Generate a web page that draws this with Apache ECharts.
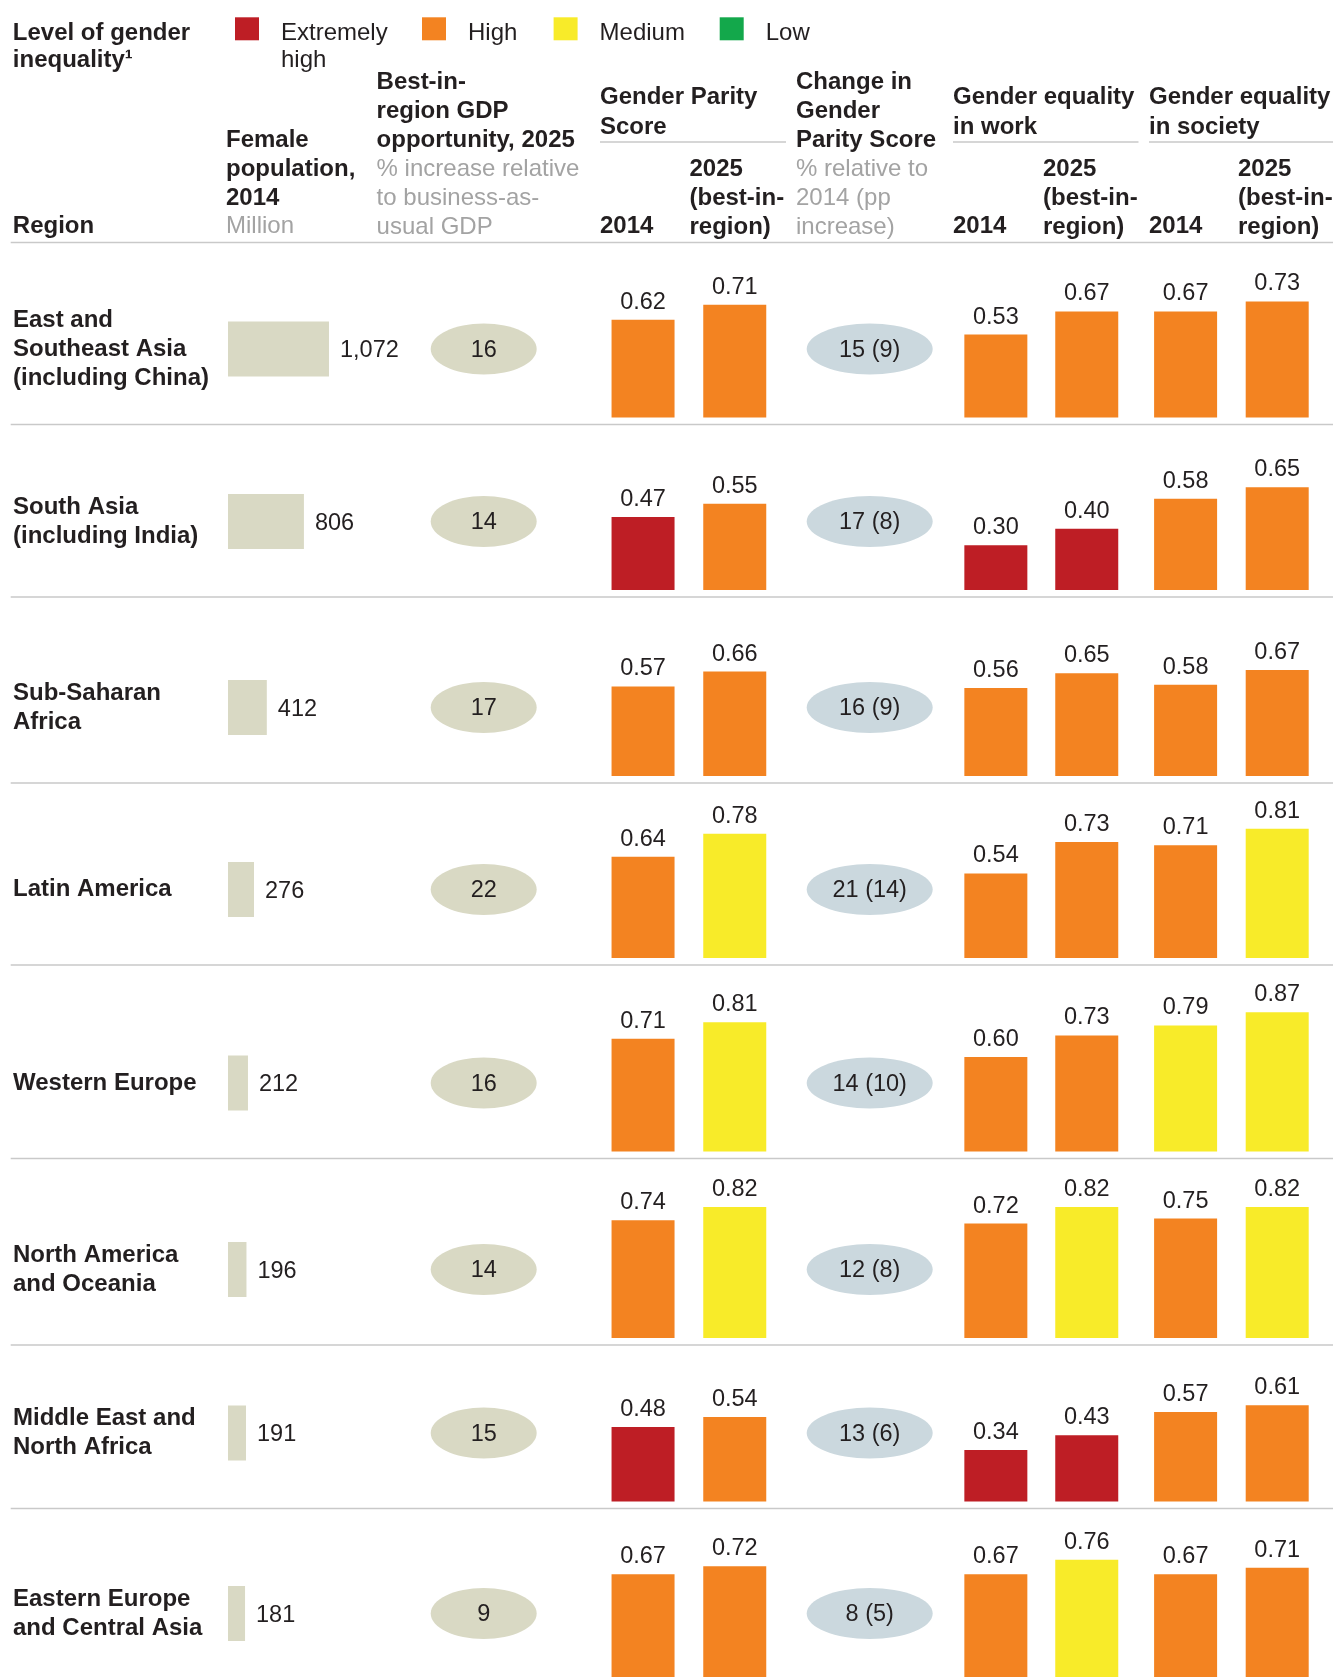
<!DOCTYPE html>
<html><head><meta charset="utf-8">
<script src="https://cdn.jsdelivr.net/npm/echarts@6/dist/echarts.min.js"></script>
<style>html,body{margin:0;padding:0;background:#fff}#c{width:1333px;height:1677px}</style>
</head><body><div id="c"></div>
<script>
// ---------- DATA ----------
const regions = [
  'East and\nSoutheast Asia\n(including China)',
  'South Asia\n(including India)',
  'Sub-Saharan\nAfrica',
  'Latin America',
  'Western Europe',
  'North America\nand Oceania',
  'Middle East and\nNorth Africa',
  'Eastern Europe\nand Central Asia'
];
const femalePopulation2014 = [1072, 806, 412, 276, 212, 196, 191, 181];
const gdpOpportunity2025 = [16, 14, 17, 22, 16, 14, 15, 9];
const gpsChangePct = [15, 17, 16, 21, 14, 12, 13, 8];
const gpsChangePp = [9, 8, 9, 14, 10, 8, 6, 5];
const gps2014 = [0.62, 0.47, 0.57, 0.64, 0.71, 0.74, 0.48, 0.67];
const gps2025 = [0.71, 0.55, 0.66, 0.78, 0.81, 0.82, 0.54, 0.72];
const work2014 = [0.53, 0.30, 0.56, 0.54, 0.60, 0.72, 0.34, 0.67];
const work2025 = [0.67, 0.40, 0.65, 0.73, 0.73, 0.82, 0.43, 0.76];
const society2014 = [0.67, 0.58, 0.58, 0.71, 0.79, 0.75, 0.57, 0.67];
const society2025 = [0.73, 0.65, 0.67, 0.81, 0.87, 0.82, 0.61, 0.71];
// inequality level of each bar: E = extremely high, H = high, M = medium, L = low
const gps2014Level = ['H', 'E', 'H', 'H', 'H', 'H', 'E', 'H'];
const gps2025Level = ['H', 'H', 'H', 'M', 'M', 'M', 'H', 'H'];
const work2014Level = ['H', 'E', 'H', 'H', 'H', 'H', 'E', 'H'];
const work2025Level = ['H', 'E', 'H', 'H', 'H', 'M', 'E', 'M'];
const society2014Level = ['H', 'H', 'H', 'H', 'M', 'H', 'H', 'H'];
const society2025Level = ['H', 'H', 'H', 'M', 'M', 'M', 'H', 'H'];
const levelKeys = ['E', 'H', 'M', 'L'];
const levelLabels = ['Extremely\nhigh', 'High', 'Medium', 'Low'];
const barPeriods = ['2014', '2025 (best-in-region)'];
const ellipseColumns = ['GDP opportunity', 'Change in GPS'];

// ---------- STYLE / LAYOUT ----------
const FONT = '"Liberation Sans", Arial, Helvetica, sans-serif';
const DARK = '#231f20';
const GREY = '#a3a3a3';
const RULE = '#c9c9c9';
const levelColors = { E: '#be1e25', H: '#f38321', M: '#f8eb29', L: '#13a84b' };
const BEIGE = '#d9d9c4';
const BLUEGREY = '#cbd8de';
const W = 1333;
const rowBottoms = [424.5, 597, 783, 965, 1158.5, 1345, 1508.5, 1689];
const rowTops = [242.5].concat(rowBottoms.slice(0, -1));
const groups = [
  { left: 597.2, width: 183.4, a: gps2014, b: gps2025, la: gps2014Level, lb: gps2025Level },
  { left: 950.4, width: 181.8, a: work2014, b: work2025, la: work2014Level, lb: work2025Level },
  { left: 1139.8, width: 183.2, a: society2014, b: society2025, la: society2014Level, lb: society2025Level }
];
const ELLIPSE = 'path://M0,50C0,22.4 22.4,0 50,0C77.6,0 100,22.4 100,50C100,77.6 77.6,100 50,100C22.4,100 0,77.6 0,50Z';

const grid = [], xAxis = [], yAxis = [], series = [];
function addGrid(g, xa, ya) {
  const idx = grid.length;
  grid.push(Object.assign({ containLabel: false }, g));
  xAxis.push(Object.assign({ gridIndex: idx }, xa));
  yAxis.push(Object.assign({ gridIndex: idx }, ya));
  return idx;
}
const hiddenVal = (min, max) => ({ type: 'value', min, max, show: false, splitLine: { show: false } });

regions.forEach((region, i) => {
  const bottom = rowBottoms[i];
  const center = bottom - 75.5;
  const base = bottom - 7;

  // female population bar + region label
  const gp = addGrid(
    { left: 228, top: center - 27.5, width: 188.4, height: 55 },
    hiddenVal(0, 2000),
    {
      type: 'category', data: [region],
      axisLine: { show: false }, axisTick: { show: false }, splitLine: { show: false },
      axisLabel: { align: 'left', margin: 215, padding: [3, 0, 0, 0], fontFamily: FONT, fontWeight: 'bold', fontSize: 24, lineHeight: 29, color: DARK }
    }
  );
  series.push({
    type: 'bar', xAxisIndex: gp, yAxisIndex: gp, barWidth: 55,
    data: [femalePopulation2014[i]],
    itemStyle: { color: BEIGE },
    label: {
      show: true, position: 'right', distance: 11, offset: [0, 2], fontFamily: FONT, fontSize: 23.5, color: DARK,
      formatter: p => p.value.toLocaleString('en-US')
    }
  });

  // ellipses: GDP opportunity and change in GPS
  const ge = addGrid(
    { left: 290.7, top: center - 25.5, width: 772, height: 51 },
    { type: 'category', data: ellipseColumns, show: false },
    hiddenVal(-1, 1)
  );
  series.push({
    type: 'scatter', xAxisIndex: ge, yAxisIndex: ge, symbol: ELLIPSE, symbolSize: [106, 51],
    data: [[0, 0]], itemStyle: { color: BEIGE, opacity: 1 },
    label: { show: true, position: 'inside', offset: [0, 1.5], fontFamily: FONT, fontSize: 23.5, color: DARK, formatter: () => String(gdpOpportunity2025[i]) }
  });
  series.push({
    type: 'scatter', xAxisIndex: ge, yAxisIndex: ge, symbol: ELLIPSE, symbolSize: [126, 51],
    data: [[1, 0]], itemStyle: { color: BLUEGREY, opacity: 1 },
    label: { show: true, position: 'inside', offset: [0, 1.5], fontFamily: FONT, fontSize: 23.5, color: DARK, formatter: () => gpsChangePct[i] + ' (' + gpsChangePp[i] + ')' }
  });

  // score bars
  groups.forEach(g => {
    const gi = addGrid(
      { left: g.left, top: base - 160, width: g.width, height: 160 },
      { type: 'category', data: barPeriods, show: false },
      hiddenVal(0.03, 0.995)
    );
    series.push({
      type: 'bar', xAxisIndex: gi, yAxisIndex: gi, barWidth: 63,
      data: [
        { value: g.a[i], itemStyle: { color: levelColors[g.la[i]] } },
        { value: g.b[i], itemStyle: { color: levelColors[g.lb[i]] } }
      ],
      label: {
        show: true, position: 'top', distance: 5.5, fontFamily: FONT, fontSize: 23.5, color: DARK,
        formatter: p => p.value.toFixed(2)
      }
    });
  });
});

// ---------- HEADER (text, rules, legend) ----------
const graphic = [];
function txt(text, x, top, opts) {
  opts = opts || {};
  graphic.push({
    type: 'text', x, y: top + 2, silent: true,
    style: {
      text, fill: opts.grey ? GREY : DARK,
      font: (opts.bold ? 'bold ' : '') + (opts.size || 24) + 'px ' + FONT,
      lineHeight: opts.lh || 29, verticalAlign: 'top', align: 'left'
    }
  });
}
function rule(x1, x2, y) {
  graphic.push({ type: 'line', silent: true, shape: { x1, y1: y, x2, y2: y }, style: { stroke: RULE, lineWidth: 1.6 } });
}
txt('Level of gender\ninequality\u00b9', 12.8, 17.25, { bold: true, lh: 27.5 });
const legendX = [235, 422, 553.6, 719.7];
levelKeys.forEach((k, j) => {
  graphic.push({ type: 'rect', silent: true, shape: { x: legendX[j], y: 17.3, width: 24, height: 23 }, style: { fill: levelColors[k] } });
  txt(levelLabels[j], legendX[j] + 46, 17.25, { lh: 27.5 });
});
txt('Region', 12.8, 210, { bold: true });
txt('Female\npopulation,\n2014', 226, 123.5, { bold: true });
txt('Million', 226, 210, { grey: true });
txt('Best-in-\nregion GDP\nopportunity, 2025', 376.6, 66, { bold: true });
txt('% increase relative\nto business-as-\nusual GDP', 376.6, 152.5, { grey: true });
txt('Gender Parity\nScore', 600, 80.8, { bold: true, lh: 30 });
txt('2014', 600, 210, { bold: true });
txt('2025\n(best-in-\nregion)', 689.5, 152.5, { bold: true });
txt('Change in\nGender\nParity Score', 796, 66, { bold: true });
txt('% relative to\n2014 (pp\nincrease)', 796, 152.5, { grey: true });
txt('Gender equality\nin work', 953, 80.8, { bold: true, lh: 30 });
txt('2014', 953, 210, { bold: true });
txt('2025\n(best-in-\nregion)', 1043, 152.5, { bold: true });
txt('Gender equality\nin society', 1149, 80.8, { bold: true, lh: 30 });
txt('2014', 1149, 210, { bold: true });
txt('2025\n(best-in-\nregion)', 1238, 152.5, { bold: true });
rule(600, 786, 142);
rule(953, 1138.5, 142);
rule(1149, W, 142);
rowTops.forEach(y => rule(10.7, W, y));

const option = {
  animation: false,
  backgroundColor: '#ffffff',
  textStyle: { fontFamily: FONT },
  grid, xAxis, yAxis, series, graphic
};
const chart = echarts.init(document.getElementById('c'), null, { renderer: 'canvas' });
chart.setOption(option);
</script></body></html>
